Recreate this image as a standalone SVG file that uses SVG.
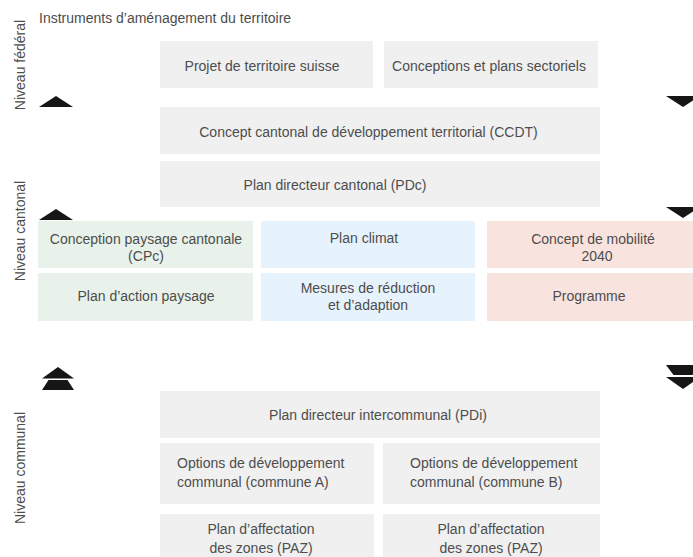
<svg xmlns="http://www.w3.org/2000/svg" width="693" height="557" viewBox="0 0 693 557">
<style>
text { font-family: "Liberation Sans", Arial, sans-serif; font-size: 14px; fill: #4d4d4d; }
.c { text-anchor: middle; }
.gray { fill: #f0f0f0; }
.green { fill: #e8f2ea; }
.blue { fill: #e6f2fc; }
.red { fill: #f9e3de; }
.arrow { fill: #161616; }
</style>
<defs>
<path id="up" d="M-17,0 L17,0 L0,-11 Z"/>
<path id="down" d="M-17,0 L17,0 L0,11 Z"/>
<g id="up2"><path d="M-16,0 L16,0 L9.5,-10 L-9.5,-10 Z"/><path d="M-16,-11.5 L16,-11.5 L0,-23 Z"/></g>
<g id="down2"><path d="M-17,0 L17,0 L9.5,10 L-9.5,10 Z"/><path d="M-17,12 L17,12 L0,24 Z"/></g>
</defs>
<rect width="693" height="557" fill="#ffffff"/>

<g id="title"><text x="39" y="23">Instruments d’aménagement du territoire</text></g>

<g id="levels">
<text class="c" transform="translate(25,65) rotate(-90)">Niveau fédéral</text>
<text class="c" transform="translate(25,231) rotate(-90)">Niveau cantonal</text>
<text class="c" transform="translate(25,468) rotate(-90)">Niveau communal</text>
</g>

<g id="projet"><rect class="gray" x="160" y="41" width="213" height="47"/><text class="c" x="262" y="71">Projet de territoire suisse</text></g>
<g id="conceptions"><rect class="gray" x="384" y="41" width="214" height="47"/><text class="c" x="489" y="71">Conceptions et plans sectoriels</text></g>

<g id="ccdt"><rect class="gray" x="160" y="107" width="440" height="47"/><text class="c" x="368.5" y="137">Concept cantonal de développement territorial (CCDT)</text></g>
<g id="pdc"><rect class="gray" x="160" y="161" width="440" height="46"/><text class="c" x="335" y="190">Plan directeur cantonal (PDc)</text></g>

<g id="cpc"><rect class="green" x="38" y="221" width="215" height="47"/><text class="c" x="146" y="244">Conception paysage cantonale</text><text class="c" x="146" y="261">(CPc)</text></g>
<g id="plan-action"><rect class="green" x="38" y="273" width="215" height="48"/><text class="c" x="146" y="301">Plan d’action paysage</text></g>

<g id="plan-climat"><rect class="blue" x="261" y="221" width="214" height="47"/><text class="c" x="364" y="243">Plan climat</text></g>
<g id="mesures"><rect class="blue" x="261" y="273" width="214" height="48"/><text class="c" x="368" y="293">Mesures de réduction</text><text class="c" x="368" y="310">et d’adaption</text></g>

<g id="mobilite"><rect class="red" x="487" y="221" width="213" height="47"/><text class="c" x="593" y="244">Concept de mobilité</text><text class="c" x="597" y="261">2040</text></g>
<g id="programme"><rect class="red" x="487" y="273" width="213" height="48"/><text class="c" x="589" y="301">Programme</text></g>

<g id="pdi"><rect class="gray" x="160" y="391" width="440" height="47"/><text class="c" x="378" y="420">Plan directeur intercommunal (PDi)</text></g>
<g id="options-a"><rect class="gray" x="160" y="443" width="214" height="61"/><text x="177" y="468">Options de développement</text><text x="177" y="487">communal (commune A)</text></g>
<g id="options-b"><rect class="gray" x="383" y="443" width="217" height="61"/><text x="410" y="468">Options de développement</text><text x="410" y="487">communal (commune B)</text></g>
<g id="paz-a"><rect class="gray" x="160" y="514" width="214" height="50"/><text class="c" x="261" y="534">Plan d’affectation</text><text class="c" x="261" y="553">des zones (PAZ)</text></g>
<g id="paz-b"><rect class="gray" x="383" y="514" width="217" height="50"/><text class="c" x="491" y="534">Plan d’affectation</text><text class="c" x="491" y="553">des zones (PAZ)</text></g>

<g id="connectors" class="arrow">
<use href="#up" x="56" y="107"/>
<use href="#down" x="683" y="96"/>
<use href="#up" x="56" y="220"/>
<use href="#down" x="683" y="207"/>
<use href="#up2" x="58" y="390"/>
<use href="#down2" x="683" y="365"/>
</g>
</svg>
